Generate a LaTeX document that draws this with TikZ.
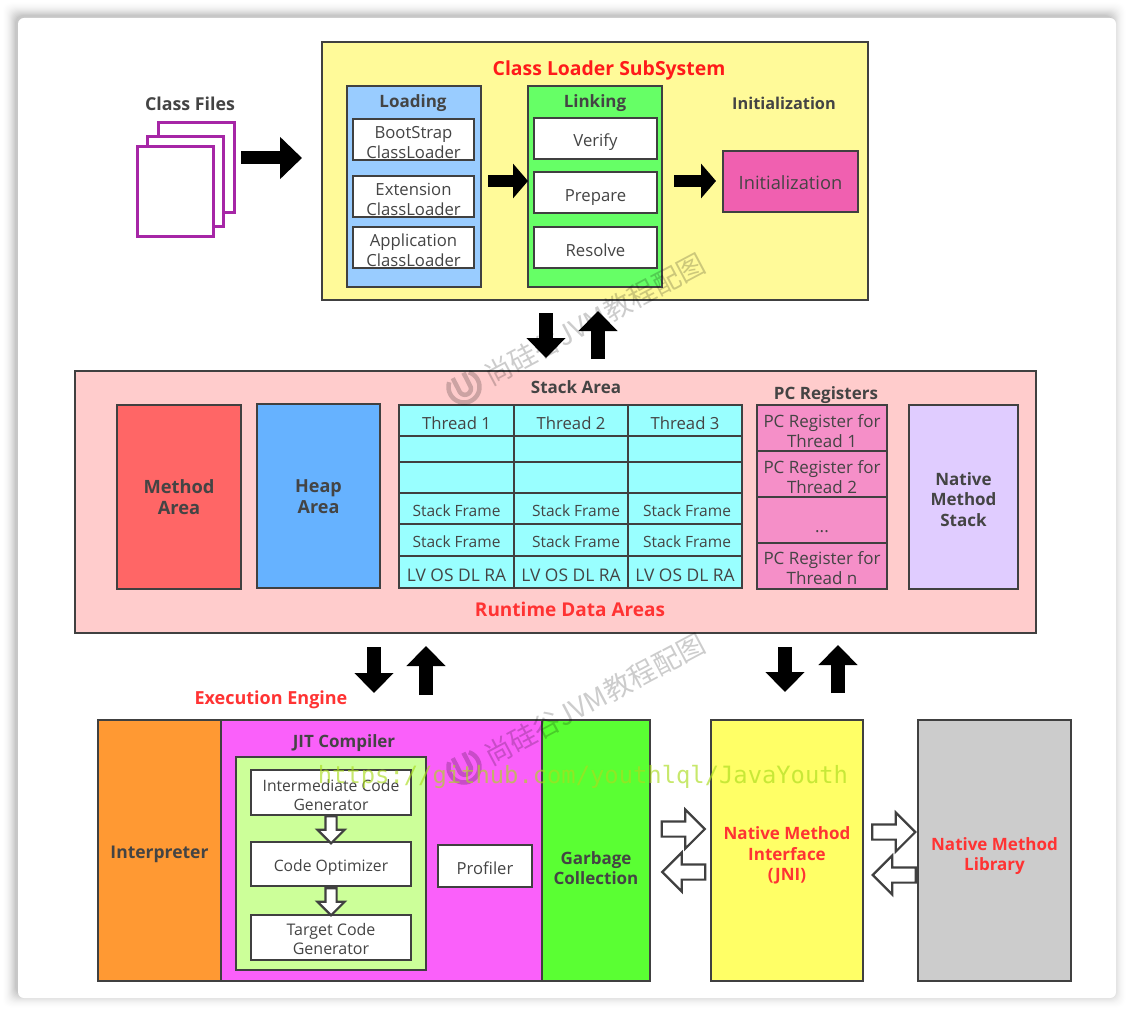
\documentclass[tikz,border=0pt]{standalone}
\usepackage{fontspec}
\setmainfont{Open Sans}
\newfontfamily\cjkwm{Noto Sans CJK SC}
\newfontfamily\urlwm{DejaVu Sans Mono}
\usetikzlibrary{arrows.meta,shapes.arrows}
\definecolor{edge}{HTML}{404040}
\definecolor{txt}{HTML}{444444}
\definecolor{redA}{HTML}{FF1A1A}
\definecolor{redB}{HTML}{FF3333}
\definecolor{pagepurple}{HTML}{A626A6}
\definecolor{urlgreen}{HTML}{AADC1E}
\newcommand{\myb}[7]{%
  \pgfmathsetmacro\cxx{(#2+#4)/2}\pgfmathsetmacro\cyy{(#3+#5)/2}%
  \node[rbox,#6,minimum width={(#4-#2)*1pt},minimum height={(#5-#3)*1pt}] (#1) at (\cxx,\cyy) {#7};}
\newcommand{\tl}[2]{\raisebox{\dimexpr#1pt-7pt\relax}[0pt][0pt]{\begin{tabular}{@{}c@{}}#2\end{tabular}}}
\newcommand{\fs}[1]{\fontsize{#1}{20.5}\selectfont}
\newcommand{\fsb}[2]{\fontsize{#1}{#2}\selectfont}
\tikzset{
  x=1pt,y=-1pt,
  rbox/.style={draw=edge,line width=2.7pt,inner sep=0pt,text=txt,font=\fsb{16.7}{20}},
  ttl/.style={text=txt,inner sep=0pt,font=\fs{17}\bfseries},
  redttl/.style={text=redB,inner sep=0pt,font=\fs{18}\bfseries},
  bigarrow/.style={draw=black,line width=13pt,-{Triangle[length=22pt,width=41pt]}},
  medarrow/.style={draw=black,line width=12pt,-{Triangle[length=15pt,width=34pt]}},
  vdarrow/.style={draw=black,line width=14pt,-{Triangle[length=20pt,width=38pt]}},
  hollowarrow/.style={single arrow,draw=edge,fill=white,line width=2.2pt,inner sep=0pt,
    minimum height=43pt,minimum width=37pt,single arrow head extend=12pt},
  smallhollow/.style={single arrow,draw=edge,fill=white,line width=2.2pt,inner sep=0pt,shape border rotate=270,
    minimum height=27pt,minimum width=25pt,single arrow head extend=8pt},
  wmtext/.style={text=black,opacity=.2,inner sep=0pt,anchor=west,rotate=28,font=\fontsize{27.5}{30}\cjkwm},
  wmlogo/.style={draw=black,opacity=.2,line width=4.5pt},
  urltext/.style={text=urlgreen,opacity=.65,inner sep=0pt,font=\fontsize{23.8}{26}\urlwm},
  pagebox/.style={draw=pagepurple,fill=white,line width=3pt},
}
\begin{document}
\begin{tikzpicture}
\useasboundingbox (0,0) rectangle (1134,1016);
% card shadow
\fill[white] (0,0) rectangle (1134,1016);
\foreach \i in {14,13,...,0}{
  \pgfmathsetmacro\k{22*(1-\i/14)^2}
  \fill[black!\k!white,rounded corners=8pt] ({15-\i},{15-\i}) rectangle ({1113+\i},{995+\i});
}
\fill[white,rounded corners=6pt] (18,18) rectangle (1116,998);

% class files
\node[ttl,font=\fs{17.8}\bfseries] (classfiles) at (190,104) {Class Files};
\myb{pageC}{158}{123}{234}{213}{pagebox}{}
\myb{pageB}{147}{137}{223}{227}{pagebox}{}
\myb{pageA}{137}{147}{213}{237}{pagebox}{}

% class loader subsystem
\myb{cls}{322}{42}{868}{300}{fill=yellow!40!white}{}
\node[ttl,text=redA,font=\fs{19.4}\bfseries] (clstitle) at (609,70) {Class Loader SubSystem};
\myb{loading}{347}{86}{481}{287}{fill={rgb,255:red,153;green,204;blue,255}}{}
\node[ttl] (loadingt) at (413,103) {Loading};
\myb{boot}{353}{119}{474}{160}{fill=white}{\tl{-2.5}{BootStrap\\ClassLoader}}
\myb{ext}{353}{176}{474}{217}{fill=white}{\tl{-2.5}{Extension\\ClassLoader}}
\myb{app}{353}{227}{474}{268}{fill=white}{\tl{-2.5}{Application\\ClassLoader}}
\myb{linking}{528}{86}{662}{287}{fill={rgb,255:red,102;green,255;blue,102}}{}
\node[ttl] (linkingt) at (595,103) {Linking};
\myb{verify}{534}{118}{657}{159}{fill=white}{\tl{-1}{Verify}}
\myb{prepare}{534}{172}{657}{213}{fill=white}{\tl{-2}{Prepare}}
\myb{resolve}{534}{227}{657}{268}{fill=white}{\tl{-2}{Resolve}}
\node[ttl,font=\fs{16.3}\bfseries] (initt) at (784,103) {Initialization};
\myb{init}{723}{151}{858}{212}{fill={rgb,255:red,240;green,96;blue,176},font=\fs{18.3}}{\tl{-1}{Initialization}}

% runtime data areas
\myb{rda}{75}{371}{1036}{633}{fill={rgb,255:red,255;green,204;blue,204}}{}
\myb{method}{117}{405}{241}{589}{fill={rgb,255:red,255;green,102;blue,102},font=\fs{18.3}\bfseries}{\tl{0}{Method\\Area}}
\myb{heap}{257}{404}{380}{588}{fill={rgb,255:red,102;green,178;blue,255},font=\fs{18}\bfseries}{\tl{0}{Heap\\Area}}
\node[ttl] (stackt) at (576,387) {Stack Area};
\tikzset{cyan cell/.style={fill={rgb,255:red,153;green,255;blue,255}},
  sfcell/.style={cyan cell,font=\fs{15.5}},lvcell/.style={cyan cell,font=\fs{17.4}}}
\myb{t1}{399}{405}{514}{436}{cyan cell}{\tl{-2}{Thread 1}}
\myb{t2}{514}{405}{628}{436}{cyan cell}{\tl{-2}{Thread 2}}
\myb{t3}{628}{405}{742}{436}{cyan cell}{\tl{-2}{Thread 3}}
\myb{e11}{399}{436}{514}{462}{cyan cell}{}
\myb{e12}{514}{436}{628}{462}{cyan cell}{}
\myb{e13}{628}{436}{742}{462}{cyan cell}{}
\myb{e21}{399}{462}{514}{493}{cyan cell}{}
\myb{e22}{514}{462}{628}{493}{cyan cell}{}
\myb{e23}{628}{462}{742}{493}{cyan cell}{}
\myb{sf11}{399}{493}{514}{524}{sfcell}{\tl{0}{Stack Frame}}
\myb{sf12}{514}{493}{628}{524}{sfcell}{\hspace*{10pt}\tl{0}{Stack Frame}}
\myb{sf13}{628}{493}{742}{524}{sfcell}{\hspace*{4pt}\tl{0}{Stack Frame}}
\myb{sf21}{399}{524}{514}{556}{sfcell}{\tl{0}{Stack Frame}}
\myb{sf22}{514}{524}{628}{556}{sfcell}{\hspace*{10pt}\tl{0}{Stack Frame}}
\myb{sf23}{628}{524}{742}{556}{sfcell}{\hspace*{4pt}\tl{0}{Stack Frame}}
\myb{lv1}{399}{556}{514}{588}{lvcell}{\tl{-3}{LV OS DL RA}}
\myb{lv2}{514}{556}{628}{588}{lvcell}{\tl{-3}{LV OS DL RA}}
\myb{lv3}{628}{556}{742}{588}{lvcell}{\tl{-3}{LV OS DL RA}}
\node[ttl] (pct) at (826,395) {PC Registers};
\tikzset{pc cell/.style={fill={rgb,255:red,245;green,143;blue,200},font=\fsb{17}{19.8}}}
\myb{pc1}{757}{405}{887}{451}{pc cell}{\tl{-3}{PC Register for\\Thread 1}}
\myb{pc2}{757}{451}{887}{497}{pc cell}{\tl{-3}{PC Register for\\Thread 2}}
\myb{pc3}{757}{497}{887}{543}{pc cell}{\tl{-6}{...}}
\myb{pcn}{757}{543}{887}{589}{pc cell}{\tl{-2}{PC Register for\\Thread n}}
\myb{nms}{909}{405}{1018}{589}{fill={rgb,255:red,224;green,204;blue,255},font=\fs{17}\bfseries}{\tl{-2}{Native\\Method\\Stack}}
\node[redttl,font=\fs{19}\bfseries] (rdat) at (570,609) {Runtime Data Areas};

% execution engine
\node[redttl] (eet) at (271,700) {Execution Engine};
\myb{interp}{98}{720}{221}{981}{fill={rgb,255:red,255;green,153;blue,51},font=\fs{17.5}\bfseries}{\tl{-1}{Interpreter}}
\myb{jit}{221}{720}{542}{981}{fill={rgb,255:red,250;green,96;blue,250}}{}
\node[ttl] (jitt) at (344,743) {JIT Compiler};
\myb{jitin}{236}{757}{426}{970}{fill={rgb,255:red,204;green,255;blue,153}}{}
\tikzset{jit box/.style={fill=white,font=\fsb{15.7}{19.3}}}
\myb{icg}{251}{770}{411}{815}{jit box}{\tl{-1}{Intermediate Code\\Generator}}
\myb{copt}{251}{842}{411}{886}{jit box}{\tl{0}{Code Optimizer}}
\myb{tcg}{251}{915}{411}{960}{jit box,font=\fsb{16}{19.3}}{\tl{-1}{Target Code\\Generator}}
\myb{prof}{438}{845}{532}{887}{jit box,font=\fs{16.6}}{\tl{-2}{Profiler}}
\myb{gc}{542}{720}{650}{981}{fill={rgb,255:red,90;green,255;blue,51},font=\fs{17}\bfseries}{\tl{-17}{Garbage\\Collection}}
\myb{nmi}{711}{720}{863}{981}{fill={rgb,255:red,255;green,255;blue,102},text=redB,font=\fs{17}\bfseries}{\tl{-3}{Native Method\\Interface\\(JNI)}}
\myb{nml}{918}{720}{1071}{981}{fill={rgb,255:red,204;green,204;blue,204},text=redB,font=\fs{17}\bfseries}{\tl{-3}{Native Method\\Library}}

% block arrows
\coordinate (a1s) at (241,158); \coordinate (a1e) at (302,158);
\draw[bigarrow] (a1s) -- (a1e);
\coordinate (a2s) at (488,181); \coordinate (a2e) at (528,181);
\draw[medarrow] (a2s) -- (a2e);
\coordinate (a3s) at (674,181); \coordinate (a3e) at (716,181);
\draw[medarrow] (a3s) -- (a3e);
\coordinate (d1s) at (546,313); \coordinate (d1e) at (546,358);
\draw[vdarrow] (d1s) -- (d1e);
\coordinate (u1s) at (598,359); \coordinate (u1e) at (598,311);
\draw[vdarrow] (u1s) -- (u1e);
\coordinate (d2s) at (374,647); \coordinate (d2e) at (374,693);
\draw[vdarrow] (d2s) -- (d2e);
\coordinate (u2s) at (426,695); \coordinate (u2e) at (426,646);
\draw[vdarrow] (u2s) -- (u2e);
\coordinate (d3s) at (785,647); \coordinate (d3e) at (785,692);
\draw[vdarrow] (d3s) -- (d3e);
\coordinate (u3s) at (838,693); \coordinate (u3e) at (838,645);
\draw[vdarrow] (u3s) -- (u3e);

% hollow arrows
\node[smallhollow] (ha1) at (331,827) {\rule{9pt}{0pt}};
\node[smallhollow] (ha2) at (331,899) {\rule{9pt}{0pt}};
\node[hollowarrow] (hr1) at (679.5,829) {\rule{0pt}{13pt}};
\node[hollowarrow,shape border rotate=180] (hl1) at (687.5,872) {\rule{0pt}{13pt}};
\node[hollowarrow] (hr2) at (890,832) {\rule{0pt}{13pt}};
\node[hollowarrow,shape border rotate=180] (hl2) at (898,875) {\rule{0pt}{13pt}};

% watermarks
\foreach \wx/\wy/\wn in {464/387/a,464/767/b}{
  \begin{scope}[shift={(\wx,\wy)},rotate=27]
    \draw[wmlogo,domain=-45:225,samples=41,variable=\t] plot ({15.5*cos(\t)},{15.5*sin(\t)});
    \draw[wmlogo,domain=0:180,samples=21,variable=\t] (6,-13) -- plot ({6*cos(\t)},{2+6*sin(\t)}) -- (-6,-13);
  \end{scope}
  \node[wmtext] (wm\wn) at (\wx+22,\wy-10) {尚硅谷JVM教程配图};
}
\node[urltext] (url) at (583,777) {https://github.com/youthlql/JavaYouth};
\end{tikzpicture}
\end{document}
